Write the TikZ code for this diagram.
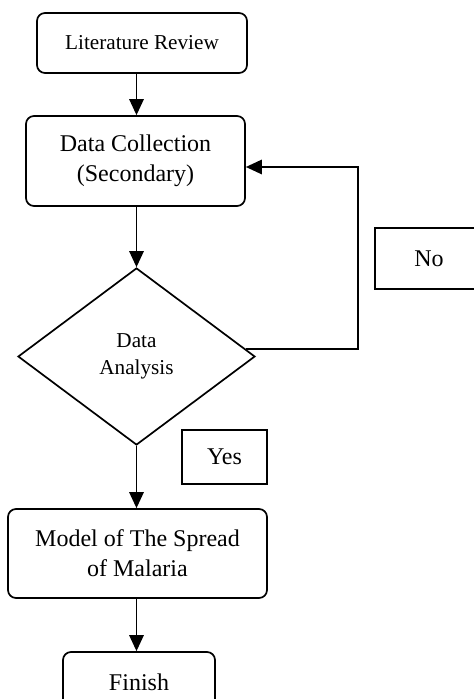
\documentclass[tikz,border=0pt]{standalone}
\usepackage{fontspec}
\setmainfont{Liberation Serif}
\usetikzlibrary{shapes.geometric,arrows.meta}
\tikzset{
  box/.style={draw, line width=0.85pt, rounded corners=4pt, inner sep=0pt, align=center,
    font=\fontsize{12}{15}\selectfont},
  sqbox/.style={draw, line width=0.85pt, inner sep=0pt, align=center,
    font=\fontsize{12}{15}\selectfont},
  smallfont/.style={font=\fontsize{10.6}{13.5}\selectfont},
  decision/.style={draw, diamond, line width=0.85pt, inner sep=0pt, align=center,
    font=\fontsize{10.6}{13.5}\selectfont},
  arr/.style={line width=0.85pt, -{Triangle[length=8pt,width=7.2pt]}}
}
\begin{document}
\begin{tikzpicture}[x=0.5pt,y=-0.5pt]
\useasboundingbox (0,0) rectangle (473,699);
\node[box, smallfont, minimum width=105pt, minimum height=30pt] (lr) at (142,43) {Literature Review};
\node[box, minimum width=109.5pt, minimum height=45pt] (dc) at (135.5,161) {Data Collection\\(Secondary)};
\node[decision, minimum width=118.5pt, minimum height=88.5pt] (da) at (136.5,356.5) {Data\\Analysis};
\node[sqbox, minimum width=54pt, minimum height=30.5pt] (no) at (429,258.5) {No};
\node[sqbox, minimum width=42.5pt, minimum height=27pt] (yes) at (224.5,457) {Yes};
\node[box, minimum width=129.5pt, minimum height=44.5pt] (mo) at (137.5,553.5) {Model of The Spread\\of Malaria};
\node[box, minimum width=76pt, minimum height=30pt] (fi) at (139,682) {Finish};
\coordinate (fb) at (358,167);
\draw[arr] (da.north |- lr.south) -- (da.north |- dc.north);
\draw[arr] (da.north |- dc.south) -- (da.north);
\draw[arr] (da.south) -- (da.south |- mo.north);
\draw[arr] (da.south |- mo.south) -- (da.south |- fi.north);
\draw[arr] (da.4) -| (fb) -- (dc.east |- fb);
\end{tikzpicture}
\end{document}
